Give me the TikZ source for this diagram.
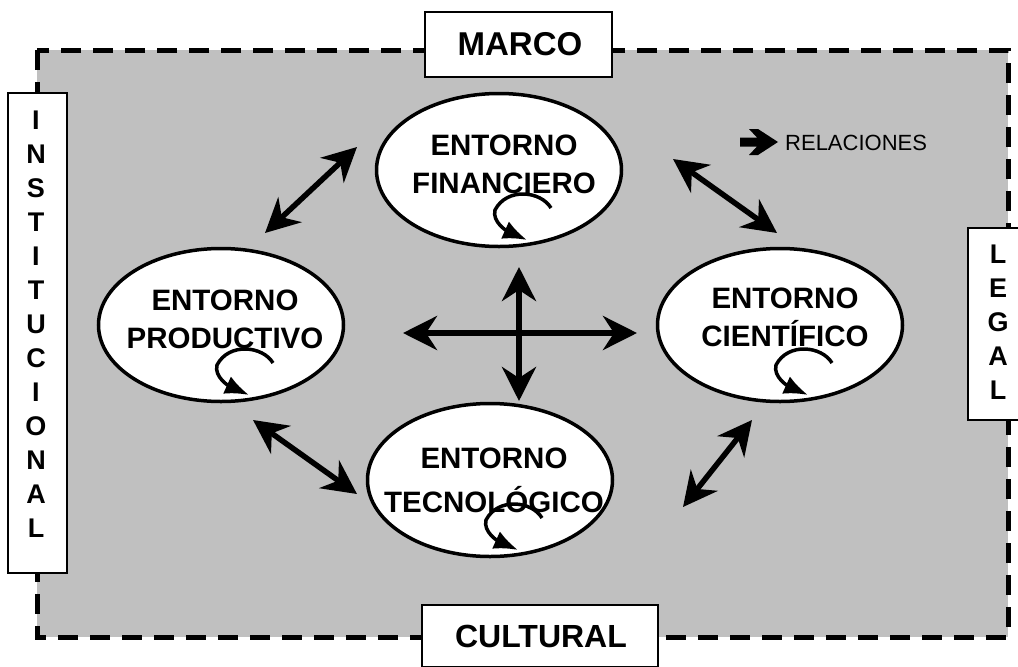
\documentclass[tikz,border=0pt]{standalone}
\usepackage{fontspec}
\setmainfont{Liberation Sans}
\usetikzlibrary{arrows.meta,shapes.geometric}
\definecolor{bggray}{RGB}{192,192,192}
\begin{document}
\begin{tikzpicture}[x=1pt,y=-1pt,
  env/.style={ellipse,draw,line width=3.5pt,fill=white,minimum width=245pt,minimum height=153pt,inner sep=0pt},
  envtext/.style={font=\fontsize{29.5}{38}\selectfont\bfseries,align=center,inner sep=0pt},
  rel/.style={line width=5.5pt,{Stealth[length=34pt,width=34pt,inset=11pt]}-{Stealth[length=34pt,width=34pt,inset=11pt]}},
  selfloop/.style={line width=3.5pt,-{Latex[length=24pt,width=19pt]}},
  labelbox/.style={draw,line width=1.5pt,fill=white},
  boxtext/.style={font=\fontsize{32}{36}\selectfont\bfseries,inner sep=0pt},
  sidetext/.style={font=\fontsize{27}{34}\selectfont\bfseries,align=center,inner sep=0pt},
]
\useasboundingbox (0,0) rectangle (1018,667);
% frame
\fill[bggray] (37,50) rectangle (1008,637);
\draw[line width=5pt,dash pattern=on 20pt off 12pt] (37,50) rectangle (1008,637);

% side boxes
\node[labelbox,minimum width=59pt,minimum height=480pt,inner sep=0pt] (instbox) at (37.5,333) {};
\node[sidetext] (inst) at (36,324) {I\\N\\S\\T\\I\\T\\U\\C\\I\\O\\N\\A\\L};
\fill[white] (968,228) rectangle (1018,420);
\draw[line width=1.5pt] (1020,228) -- (968,228) -- (968,420) -- (1020,420);
\node[sidetext] (legal) at (998,322) {L\\E\\G\\A\\L};
\node[labelbox,minimum width=187pt,minimum height=65pt] (marcobox) at (518.5,44.5) {};
\node[boxtext,font=\fontsize{33}{36}\selectfont\bfseries] (marco) at (520,44.5) {MARCO};
\node[labelbox,minimum width=236pt,minimum height=62pt] (culturalbox) at (540,636) {};
\node[boxtext] (cultural) at (541,636) {CULTURAL};

% ellipses
\node[env] (fin) at (499,170) {};
\node[env] (prod) at (221,325) {};
\node[env] (cien) at (780,325) {};
\node[env] (tec) at (490,480) {};
\node[envtext] (fint) at (504,164) {ENTORNO\\FINANCIERO};
\node[envtext] (prodt) at (225,319) {ENTORNO\\PRODUCTIVO};
\node[envtext] (cient) at (785,317) {ENTORNO\\CIENTÍFICO};
\node[envtext] (tect) at (494,480) {ENTORNO\\[6pt]TECNOLÓGICO};

% self loops
\foreach \e in {fin,prod,cien,tec}{
  \begin{scope}[shift={(\e.center)}]
    \draw[selfloop] (52,38) .. controls (42,21) and (8,17) .. (-4,40)
      .. controls (-7,52) and (8,61) .. (28,70);
  \end{scope}
}

% relation arrows
\coordinate (tl1) at (265,233); \coordinate (tl2) at (357,147);
\coordinate (tr1) at (673,159); \coordinate (tr2) at (777,233);
\coordinate (bl1) at (253,420); \coordinate (bl2) at (357,494);
\coordinate (br1) at (683,507); \coordinate (br2) at (752,420);
\coordinate (h1) at (403,333); \coordinate (h2) at (637,333);
\coordinate (v1) at (519,267); \coordinate (v2) at (519,401);
\draw[rel] (tl1) -- (tl2);
\draw[rel] (tr1) -- (tr2);
\draw[rel] (bl1) -- (bl2);
\draw[rel] (br1) -- (br2);
\draw[rel] (h1) -- (h2);
\draw[rel] (v1) -- (v2);

% legend
\fill (740,137.5) -- (757,137.5) -- (749,129) -- (758,129) -- (778,142)
  -- (758,155) -- (749,155) -- (757,146.5) -- (740,146.5) -- cycle;
\node[anchor=west,inner sep=0pt,font=\fontsize{22}{24}\selectfont] (rel) at (785,142.5) {RELACIONES};
\end{tikzpicture}
\end{document}
